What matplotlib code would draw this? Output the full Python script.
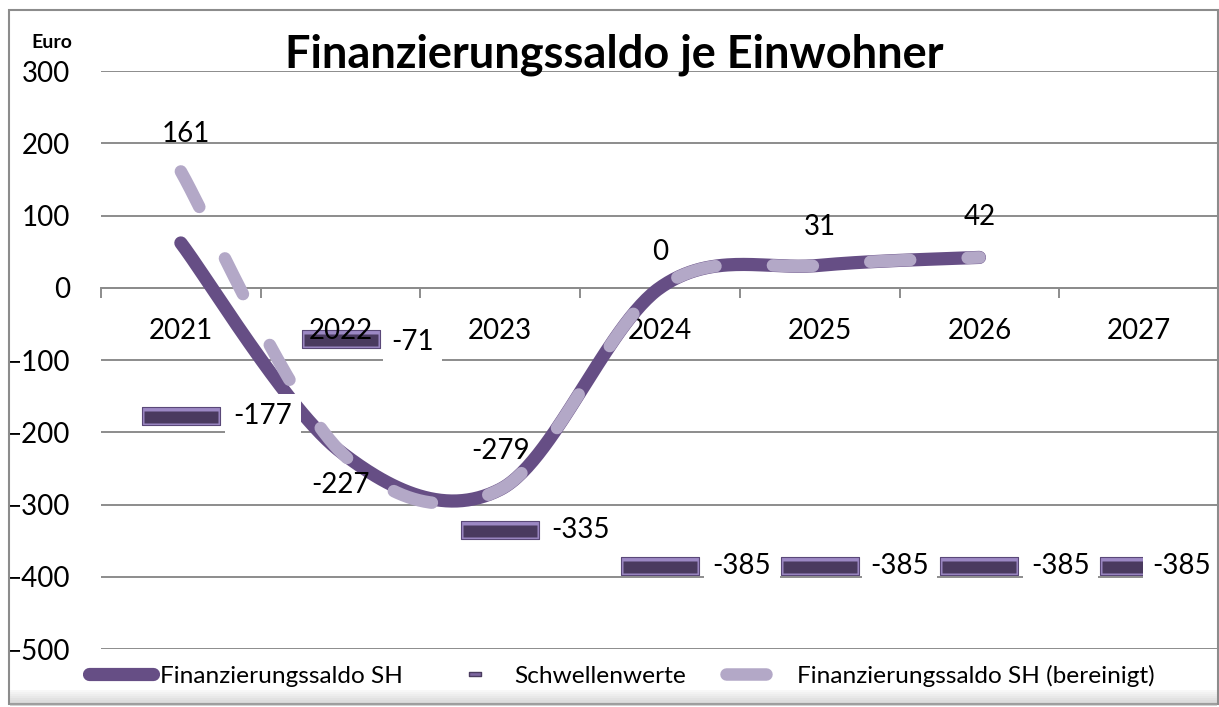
import numpy as np
import matplotlib
matplotlib.use('Agg')
import matplotlib.pyplot as plt
from matplotlib.path import Path
from matplotlib.lines import Line2D
from matplotlib.patches import Rectangle

# data
years = ['2021', '2022', '2023', '2024', '2025', '2026', '2027']
saldo = [62, -227, -279, 0, 31, 42]            # Finanzierungssaldo SH
saldo_ber = [161, -227, -279, 0, 31, 42]       # Finanzierungssaldo SH (bereinigt)
schwelle = [-177, -71, -335, -385, -385, -385, -385]  # Schwellenwerte

DARK = '#664e85'
LIGHT = '#b3a8c7'
GRID = '#8c8c8c'

plt.rcParams['font.family'] = ['Lato', 'DejaVu Sans']


# excel-like smoothed line (bezier, control points at 1/6 of neighbour difference)
def smooth(vals, steps=60):
    pts = np.column_stack([np.arange(len(vals), dtype=float), np.array(vals, dtype=float)])
    t = np.linspace(0, 1, steps)[1:, None]
    out = [pts[0]]
    for i in range(len(pts) - 1):
        p0 = pts[max(i - 1, 0)]
        p1 = pts[i]
        p2 = pts[i + 1]
        p3 = pts[min(i + 2, len(pts) - 1)]
        b1 = p1 + (p2 - p0) / 6
        b2 = p2 - (p3 - p1) / 6
        seg = (1 - t)**3 * p1 + 3 * (1 - t)**2 * t * b1 + 3 * (1 - t) * t**2 * b2 + t**3 * p2
        out.extend(seg)
    out = np.array(out)
    return out[:, 0], out[:, 1]


def rect_marker(h, y0=0.0):
    # rectangle from x=-1..1, half height h (marker size = width)
    return Path([(-1, y0 - h), (1, y0 - h), (1, y0 + h), (-1, y0 + h), (-1, y0 - h)],
                [Path.MOVETO, Path.LINETO, Path.LINETO, Path.LINETO, Path.CLOSEPOLY])


fig = plt.figure(figsize=(12.19, 7.07), dpi=100)
W, H = 1219, 707
ax = fig.add_axes([101 / W, 1 - 649 / H, (1219 - 101) / W, (649 - 71) / H])

xs = np.arange(len(years))

# lines
sx, sy = smooth(saldo)
ax.plot(sx, sy, color=DARK, lw=9.5, solid_capstyle='round', zorder=3)
bx, by = smooth(saldo_ber)
ax.plot(bx, by, color=LIGHT, lw=9, linestyle=(0, (3.2, 4.6)),
        dash_capstyle='round', zorder=4)

# Schwellenwerte markers (bevelled bars), kept under the axis so the category text stays on top
ax.plot(xs, schwelle, linestyle='none', marker=rect_marker(0.22), markersize=56,
        markerfacecolor='#9c88c4', markeredgecolor='#5a4878', markeredgewidth=0.8, zorder=2.1)
ax.plot(xs, schwelle, linestyle='none', marker=rect_marker(0.17, -0.025), markersize=53,
        markerfacecolor='#4a3a5f', markeredgecolor='none', zorder=2.2)

# data labels of the lines
line_offsets = [(5, 37), (0, -33), (0, 38), (0, 36), (0, 38), (0, 40)]
for i, v in enumerate(saldo_ber):
    ax.annotate(str(v), (xs[i], v), xytext=line_offsets[i], textcoords='offset pixels',
                ha='center', va='center', fontsize=20, zorder=7)

# data labels of the thresholds (white boxes)
thr_dx = [82, 72, 80, 82, 80, 81, 42]
thr_dy = [0, -3, 0, 0, 0, 0, 0]
for i, v in enumerate(schwelle):
    ax.annotate(str(v), (xs[i], v), xytext=(thr_dx[i], thr_dy[i]), textcoords='offset pixels',
                ha='center', va='center', fontsize=20, zorder=8,
                bbox=dict(boxstyle='square,pad=0.3', fc='white', ec='none'))

# axes
ax.set_xlim(-0.5, len(years) - 0.5)
ax.set_ylim(-500, 300)
ax.set_yticks(range(-500, 301, 100))
ax.yaxis.grid(True, color=GRID, lw=1.4)
ax.set_axisbelow(False)
for s in ['top', 'right', 'left']:
    ax.spines[s].set_visible(False)
ax.spines['bottom'].set_position(('data', 0))
ax.spines['bottom'].set_color(GRID)
ax.spines['bottom'].set_linewidth(1.4)
ax.spines['bottom'].set_zorder(1)

ax.set_xticks(np.arange(-0.5, len(years), 1.0))
ax.set_xticklabels([])
ax.tick_params(axis='x', which='major', direction='out', length=7, width=1.4, color=GRID)
ax.set_xticks(xs, minor=True)
ax.set_xticklabels(years, minor=True)
ax.tick_params(axis='x', which='minor', length=0, pad=22, labelsize=20)
ax.tick_params(axis='y', length=0, pad=22, labelsize=20)

# titles
fig.text(614 / W, 1 - 55 / H, 'Finanzierungssaldo je Einwohner', ha='center', va='center',
         fontsize=32.5, fontweight='bold')
fig.text(52 / W, 1 - 42 / H, 'Euro', ha='center', va='center', fontsize=14, fontweight='bold')

# legend
handles = [
    Line2D([], [], color=DARK, lw=9.5, solid_capstyle='round'),
    Line2D([], [], linestyle='none', marker=rect_marker(0.3), markersize=9,
           markerfacecolor='#7d67a0', markeredgecolor='#4b3c60'),
    Line2D([], [], color=LIGHT, lw=9, linestyle=(0, (3.2, 4.6)), dash_capstyle='round'),
]
labels = ['Finanzierungssaldo SH', 'Schwellenwerte', 'Finanzierungssaldo SH (bereinigt)']
fig.legend(handles, labels, loc='center', bbox_to_anchor=(622 / W, 1 - 676 / H), ncol=3,
           frameon=False, fontsize=17.6, handlelength=2.6, handletextpad=0.3, columnspacing=1.64)

# outer frame with a light shadow at the bottom
fig.patches.append(Rectangle((9 / W, 1 - 704 / H), (1218 - 9) / W, (704 - 10) / H,
                             transform=fig.transFigure, fill=False, edgecolor='#8c8c8c', lw=1.5))
for k in range(8):
    fig.patches.append(Rectangle((10 / W, (1 + k * 2) / H), (1207) / W, 2 / H,
                                 transform=fig.transFigure, fc='#b0b0b0', ec='none',
                                 alpha=0.55 - k * 0.065))

fig.savefig('out.png', dpi=100)
